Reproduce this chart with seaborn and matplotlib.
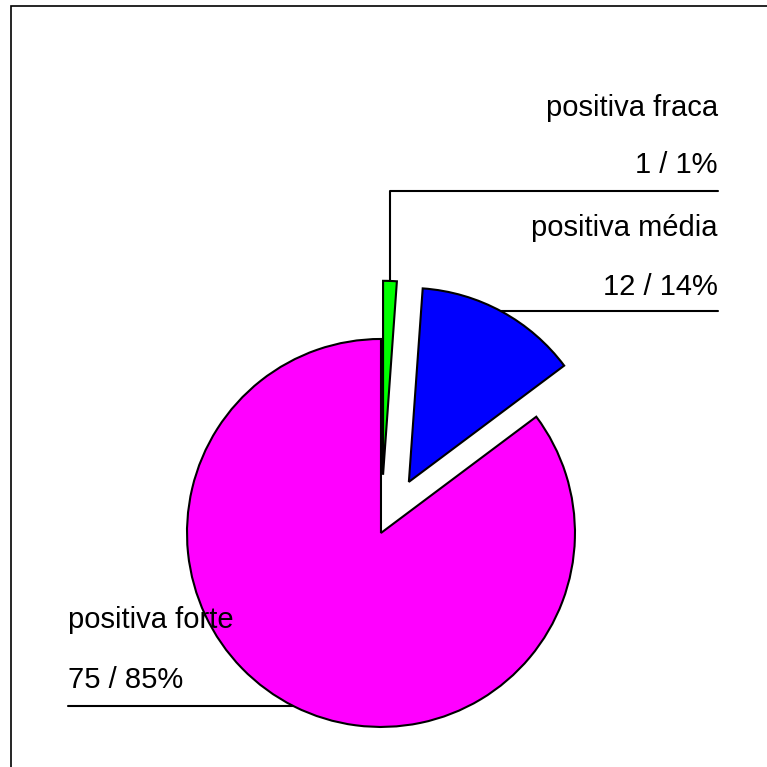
import numpy as np
import seaborn as sns
from matplotlib import pyplot as plt
from matplotlib.patches import Rectangle

# --- data ---
categories = ["positiva fraca", "positiva média", "positiva forte"]
counts = [1, 12, 75]
colors = ["#00FF00", "#0000FF", "#FF00FF"]
explode = [0.3, 0.3, 0.0]

sns.set_style("white")
plt.rcParams['font.family'] = ['Liberation Sans', 'DejaVu Sans']
plt.rcParams['text.color'] = 'black'

fig = plt.figure(figsize=(7.67, 7.67), dpi=100)
ax = fig.add_axes([0, 0, 1, 1])

wedges, _ = ax.pie(counts, colors=colors, explode=explode, startangle=90,
                   counterclock=False, radius=1.0,
                   wedgeprops=dict(edgecolor="black", linewidth=1.5))
ax.set_xlim(-1.964, 1.990)
ax.set_ylim(-1.206, 2.747)
ax.set_aspect("equal")
ax.axis("off")

total = sum(counts)
labels2 = [f"{c} / {round(100 * c / total)}%" for c in counts]
fs = 21
text_kw = dict(va="center", fontsize=fs, color="black")
line_kw = dict(color="black", lw=1.5)


def arc_point(w, ang):
    cx, cy = w.center
    return cx + w.r * np.cos(np.radians(ang)), cy + w.r * np.sin(np.radians(ang))


def arc_x_at_y(w, y, side):
    cx, cy = w.center
    return cx + side * np.sqrt(w.r ** 2 - (y - cy) ** 2)


right_x = 1.737

# positiva fraca: vertical leader from the top of the green slice
w = wedges[0]
mid = (w.theta1 + w.theta2) / 2
x0, y0 = arc_point(w, mid)
ly = 1.763
ax.plot([x0, x0, right_x], [y0, ly, ly], **line_kw)
ax.text(right_x, 2.191, categories[0], ha="right", **text_kw)
ax.text(right_x, 1.897, labels2[0], ha="right", **text_kw)

# positiva média
w = wedges[1]
ly = 1.144
x0 = arc_x_at_y(w, ly, 1)
ax.plot([x0, right_x], [ly, ly], **line_kw)
ax.text(right_x, 1.572, categories[1], ha="right", **text_kw)
ax.text(right_x, 1.268, labels2[1], ha="right", **text_kw)

# positiva forte
w = wedges[2]
left_x = -1.613
ly = -0.892
x0 = arc_x_at_y(w, ly, -1)
ax.plot([left_x, x0], [ly, ly], **line_kw)
ax.text(left_x, -0.448, categories[2], ha="left", **text_kw)
ax.text(left_x, -0.758, labels2[2], ha="left", **text_kw)

# outer frame
fig.patches.append(Rectangle((11 / 767, -0.01), 1.0, 1.01 - 6 / 767,
                             transform=fig.transFigure, fill=False,
                             edgecolor="black", linewidth=1.2))

fig.savefig("out.png", dpi=100)
